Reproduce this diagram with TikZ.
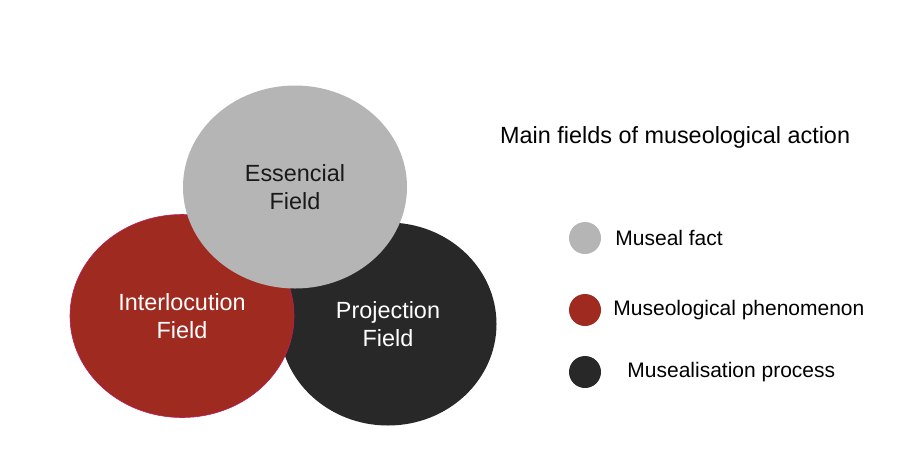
\documentclass[tikz,border=0pt]{standalone}
\usepackage{fontspec}
\setmainfont{Liberation Sans}
\usepackage{xcolor}
\usepackage{tikz}
\usetikzlibrary{shapes,positioning}

\definecolor{fieldgrey}{HTML}{B5B5B5}
\definecolor{fieldred}{HTML}{9F2A1F}
\definecolor{fieldblack}{HTML}{282828}

\begin{document}
\begin{tikzpicture}[
  x=1pt, y=-1pt,                     % pixel-like coordinates, y pointing down
  every node/.style={align=center,inner sep=1pt}, % tight padding inside nodes
  field/.style={ellipse, minimum width=224pt, minimum height=203pt,
                font=\fontsize{23.4}{28}\selectfont},
  legdot/.style={circle, minimum size=32pt, inner sep=0pt},
  legtext/.style={anchor=west, inner sep=0pt, font=\fontsize{21}{25}\selectfont}
]
\useasboundingbox (0,0) rectangle (901,464);

% the three fields, back to front
\node (proj) [field, fill=fieldblack, text=white, minimum width=217pt] at (388,324) {Projection\\ Field};
\node (inter) [field, fill=fieldred, draw=fieldred!70!magenta, line width=0.6pt, text=white] at (182,316) {Interlocution\\ Field};
\node (ess) [field, fill=fieldgrey, text=black!90] at (295,187) {Essencial\\ Field};

% legend
\node (title) [anchor=west, inner sep=0pt, font=\fontsize{23.4}{28}\selectfont] at (500,137) {Main fields of museological action};
\node (fact) [legdot, fill=fieldgrey] at (585,238) {};
\node (phen) [legdot, fill=fieldred] at (585,310) {};
\node (proc) [legdot, fill=fieldblack] at (585,372) {};
\node (tfact) [legtext, right=14pt of fact] {Museal fact};
\node (tphen) [legtext, right=12pt of phen] {Museological phenomenon};
\node (tproc) [legtext, right=26pt of proc] {Musealisation process};
\end{tikzpicture}
\end{document}
